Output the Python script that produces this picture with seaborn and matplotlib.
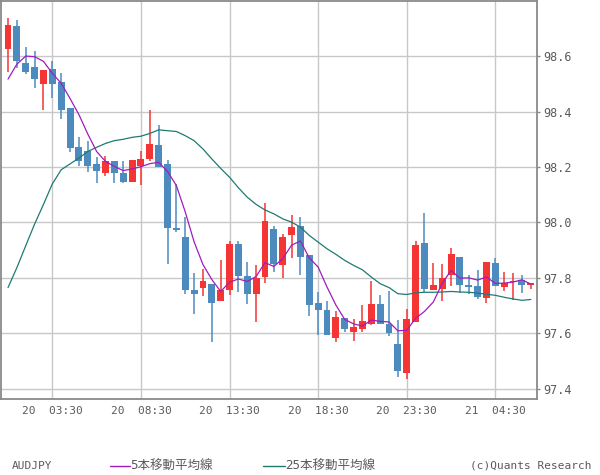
import matplotlib
matplotlib.use("Agg")
import matplotlib.pyplot as plt
import seaborn as sns
import pandas as pd
import numpy as np
from matplotlib.lines import Line2D

# ---- data (30-minute candles, AUDJPY) ----
opens = [98.624, 98.709, 98.574, 98.562, 98.498, 98.554, 98.508, 98.414, 98.271, 98.259,
         98.209, 98.177, 98.223, 98.180, 98.147, 98.203, 98.230, 98.281, 98.211, 97.979,
         97.949, 97.755, 97.763, 97.779, 97.715, 97.757, 97.921, 97.805, 97.743, 97.803,
         97.975, 97.845, 97.953, 97.988, 97.881, 97.708, 97.683, 97.583, 97.655, 97.604,
         97.614, 97.632, 97.705, 97.633, 97.560, 97.455, 97.641, 97.925, 97.757, 97.760,
         97.809, 97.877, 97.776, 97.769, 97.727, 97.852, 97.767, 97.785, 97.793, 97.773]
highs = [98.736, 98.731, 98.634, 98.619, 98.551, 98.583, 98.540, 98.414, 98.307, 98.295,
         98.235, 98.241, 98.223, 98.223, 98.227, 98.259, 98.407, 98.353, 98.225, 98.139,
         98.021, 97.817, 97.832, 97.779, 97.863, 97.933, 97.933, 97.856, 97.845, 98.069,
         97.988, 97.959, 98.025, 98.021, 97.881, 97.748, 97.715, 97.679, 97.655, 97.650,
         97.701, 97.787, 97.737, 97.751, 97.647, 97.689, 97.933, 98.033, 97.853, 97.849,
         97.906, 97.877, 97.809, 97.827, 97.859, 97.871, 97.820, 97.817, 97.809, 97.781]
lows = [98.541, 98.556, 98.534, 98.484, 98.404, 98.448, 98.372, 98.253, 98.203, 98.183,
        98.141, 98.167, 98.141, 98.144, 98.147, 98.134, 98.221, 98.199, 97.851, 97.965,
        97.743, 97.671, 97.735, 97.569, 97.715, 97.737, 97.749, 97.704, 97.641, 97.781,
        97.821, 97.801, 97.871, 97.809, 97.662, 97.595, 97.593, 97.569, 97.605, 97.572,
        97.605, 97.629, 97.633, 97.589, 97.443, 97.434, 97.641, 97.749, 97.757, 97.715,
        97.771, 97.745, 97.741, 97.724, 97.709, 97.769, 97.753, 97.721, 97.745, 97.760]
closes = [98.713, 98.583, 98.541, 98.516, 98.551, 98.498, 98.404, 98.267, 98.223, 98.203,
          98.185, 98.223, 98.177, 98.147, 98.227, 98.230, 98.283, 98.199, 97.979, 97.972,
          97.757, 97.743, 97.787, 97.709, 97.758, 97.921, 97.805, 97.743, 97.799, 98.005,
          97.851, 97.949, 97.985, 97.875, 97.701, 97.683, 97.593, 97.658, 97.614, 97.622,
          97.643, 97.705, 97.633, 97.601, 97.464, 97.653, 97.917, 97.760, 97.773, 97.799,
          97.885, 97.776, 97.767, 97.731, 97.856, 97.769, 97.781, 97.787, 97.773, 97.781]
ma5 = [98.517, 98.571, 98.600, 98.598, 98.581, 98.538, 98.502, 98.447, 98.389, 98.319,
       98.256, 98.220, 98.202, 98.187, 98.193, 98.201, 98.212, 98.217, 98.184, 98.133,
       98.038, 97.930, 97.848, 97.794, 97.751, 97.784, 97.796, 97.787, 97.805, 97.855,
       97.841, 97.869, 97.918, 97.933, 97.872, 97.839, 97.767, 97.702, 97.650, 97.634,
       97.626, 97.648, 97.643, 97.641, 97.609, 97.611, 97.654, 97.679, 97.713, 97.780,
       97.827, 97.799, 97.800, 97.792, 97.803, 97.780, 97.781, 97.785, 97.793, 97.778]
ma25 = [97.765, 97.837, 97.916, 97.994, 98.065, 98.139, 98.190, 98.211, 98.232, 98.256,
        98.271, 98.285, 98.295, 98.300, 98.307, 98.311, 98.321, 98.334, 98.331, 98.328,
        98.313, 98.295, 98.265, 98.229, 98.195, 98.163, 98.125, 98.091, 98.065, 98.045,
        98.031, 98.013, 98.001, 97.983, 97.953, 97.929, 97.905, 97.885, 97.863, 97.845,
        97.829, 97.803, 97.779, 97.765, 97.743, 97.740, 97.746, 97.748, 97.748, 97.749,
        97.751, 97.749, 97.748, 97.745, 97.741, 97.737, 97.730, 97.724, 97.719, 97.722]
x_tick_pos = [5, 15, 25, 35, 45, 55]
x_tick_labels = ["20  03:30", "20  08:30", "20  13:30", "20  18:30", "20  23:30", "21  04:30"]
y_ticks = [97.4, 97.6, 97.8, 98.0, 98.2, 98.4, 98.6]

UP = "#f53434"
DOWN = "#4d8bbf"
MA5_C = "#a01cbe"
MA25_C = "#1f7a72"
GRID = "#c8c8c8"
FRAME = "#8a8a8a"
TXT = "#5a5a5a"

sns.set_theme(style="white")
plt.rcParams['font.family'] = ['DejaVu Sans Mono', 'Noto Sans CJK JP']

df = pd.DataFrame({"idx": np.arange(len(opens)), "open": opens, "high": highs,
                   "low": lows, "close": closes, "ma5": ma5, "ma25": ma25})
df["up"] = df["close"] >= df["open"]
df["color"] = np.where(df["up"], UP, DOWN)
df["bottom"] = df[["open", "close"]].min(axis=1)
df["height"] = (df["close"] - df["open"]).abs().clip(lower=0.004)

fig = plt.figure(figsize=(6, 4.75), dpi=100)
ax = fig.add_axes([0.002, 0.16, 0.893, 0.838])

ax.set_xlim(-0.77, 59.7)
ax.set_ylim(97.363, 98.799)

for xp in x_tick_pos:
    ax.axvline(xp, color=GRID, lw=1.0, zorder=0)
for yp in y_ticks:
    ax.axhline(yp, color=GRID, lw=1.0, zorder=0)

ax.vlines(df["idx"], df["low"], df["high"], colors=df["color"], lw=1.1, zorder=2)
ax.bar(df["idx"], df["height"], bottom=df["bottom"], width=0.78,
       color=df["color"], linewidth=0, zorder=3)

sns.lineplot(data=df, x="idx", y="ma25", color=MA25_C, lw=0.9, ax=ax, zorder=4)
sns.lineplot(data=df, x="idx", y="ma5", color=MA5_C, lw=0.9, ax=ax, zorder=5)

ax.set_xlabel("")
ax.set_ylabel("")
ax.set_xticks(x_tick_pos)
ax.set_xticklabels(x_tick_labels, fontsize=8, color=TXT)
ax.set_yticks(y_ticks)
ax.set_yticklabels([f"{v:.1f}" for v in y_ticks], fontsize=8.5, color=TXT)
ax.yaxis.tick_right()
ax.tick_params(axis="x", length=0, pad=5)
ax.tick_params(axis="y", length=2.5, width=1, color=FRAME, pad=2, right=True, left=False)
for s in ax.spines.values():
    s.set_color(FRAME)
    s.set_linewidth(1.3)
    s.set_visible(True)
ax.grid(False)

# bottom legend row
fy = 1 - 466 / 475
fig.text(12 / 600, fy, "AUDJPY", fontsize=8, color=TXT, va="center", ha="left")
fig.add_artist(Line2D([110 / 600, 130 / 600], [fy, fy], color=MA5_C, lw=1.0))
fig.text(130 / 600, fy, "5本移動平均線", fontsize=9, color=TXT, va="center", ha="left")
fig.add_artist(Line2D([263 / 600, 285 / 600], [fy, fy], color=MA25_C, lw=1.0))
fig.text(285 / 600, fy, "25本移動平均線", fontsize=9, color=TXT, va="center", ha="left")
fig.text(592 / 600, fy, "(c)Quants Research", fontsize=8, color=TXT, va="center", ha="right")

fig.savefig("out.png", dpi=100)
